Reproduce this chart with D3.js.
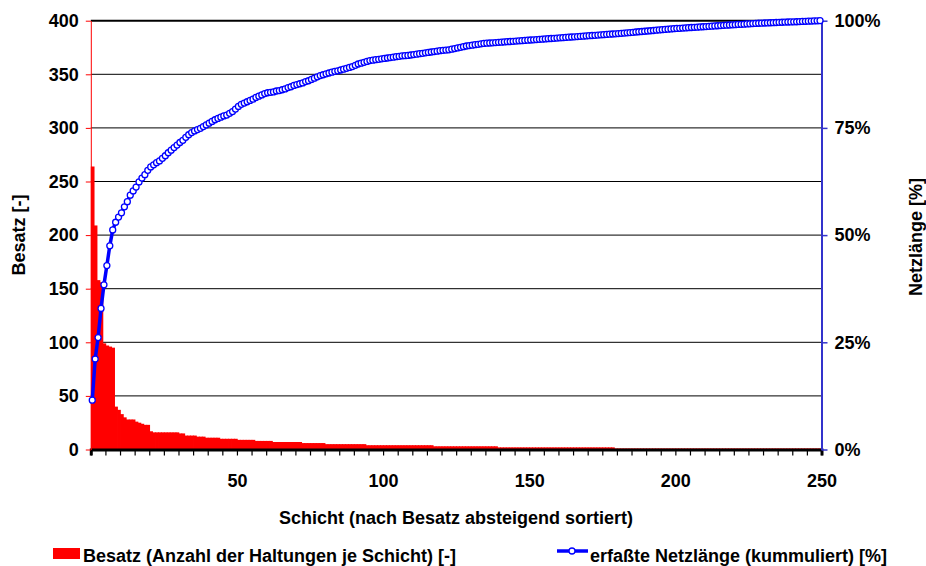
<!DOCTYPE html>
<html><head><meta charset="utf-8">
<script src="https://cdn.jsdelivr.net/npm/d3@7"></script>
<style>
body{margin:0;background:#fff}
text{font-family:"Liberation Sans",Arial,sans-serif;font-weight:bold;fill:#000}
</style>
</head><body>
<svg id="c" width="926" height="566"></svg>
<script>
// Besatz (Anzahl der Haltungen je Schicht) per Schicht 1..250
const besatz = [
 264,209,158,156,99,97,96,95,40,37,
 33,30,28,28,28,26,25,24,23,23,
 17,16,16,16,16,16,16,16,16,16,
 15,15,13,13,13,13,12,12,12,11,
 11,11,11,11,10,10,10,10,10,10,
 9,9,9,9,9,9,8,8,8,8,
 8,8,7,7,7,7,7,7,7,7,
 7,7,6,6,6,6,6,6,6,6,
 5,5,5,5,5,5,5,5,5,5,
 5,5,5,5,4,4,4,4,4,4,
 4,4,4,4,4,4,4,4,4,4,
 4,4,4,4,4,4,4,3,3,3,
 3,3,3,3,3,3,3,3,3,3,
 3,3,3,3,3,3,3,3,3,2,
 2,2,2,2,2,2,2,2,2,2,
 2,2,2,2,2,2,2,2,2,2,
 2,2,2,2,2,2,2,2,2,2,
 2,2,2,2,2,2,2,2,2,1,
 1,1,1,1,1,1,1,1,1,1,
 1,1,1,1,1,1,1,1,1,1,
 1,1,1,1,1,1,1,1,1,1,
 1,1,1,1,1,1,1,1,1,1,
 1,1,1,1,1,1,1,1,1,1,
 1,1,1,1,1,1,1,1,1,1,
 1,1,1,1,1,1,1,1,1,1
];
// erfaßte Netzlänge (kummuliert) [%]
const netzlaenge = [
 11.5,21.1,26.1,32.9,38.4,42.9,47.5,51.2,53.0,54.2,
 55.2,56.6,57.8,59.3,60.3,61.2,62.4,63.3,64.1,65.1,
 65.9,66.4,66.9,67.3,67.9,68.5,69.2,69.8,70.4,71.0,
 71.6,72.1,72.8,73.4,73.9,74.3,74.6,74.9,75.3,75.7,
 76.1,76.5,76.9,77.2,77.5,77.8,78.0,78.4,78.8,79.4,
 80.0,80.5,80.8,81.1,81.4,81.7,82.1,82.4,82.7,83.0,
 83.2,83.3,83.4,83.6,83.7,83.9,84.1,84.4,84.6,84.9,
 85.1,85.3,85.5,85.8,86.0,86.3,86.6,86.9,87.2,87.4,
 87.6,87.8,88.0,88.2,88.3,88.5,88.7,88.9,89.1,89.3,
 89.6,89.9,90.1,90.3,90.5,90.7,90.8,90.9,91.0,91.1,
 91.2,91.3,91.4,91.5,91.6,91.7,91.8,91.85,91.9,92.0,
 92.1,92.2,92.3,92.4,92.5,92.6,92.7,92.8,92.9,93.0,
 93.1,93.15,93.2,93.35,93.5,93.65,93.8,93.95,94.1,94.2,
 94.3,94.4,94.5,94.6,94.7,94.75,94.8,94.85,94.9,94.95,
 95.0,95.05,95.1,95.15,95.2,95.25,95.3,95.35,95.4,95.45,
 95.5,95.55,95.6,95.65,95.7,95.75,95.8,95.85,95.9,95.95,
 96.0,96.05,96.1,96.15,96.2,96.25,96.3,96.35,96.4,96.45,
 96.5,96.55,96.6,96.65,96.7,96.75,96.8,96.85,96.9,96.95,
 97.0,97.06,97.12,97.18,97.24,97.3,97.36,97.42,97.48,97.54,
 97.6,97.66,97.72,97.78,97.84,97.9,97.96,98.02,98.08,98.14,
 98.19,98.23,98.28,98.32,98.37,98.41,98.46,98.5,98.55,98.59,
 98.64,98.68,98.73,98.77,98.82,98.86,98.91,98.95,99.0,99.04,
 99.08,99.12,99.16,99.2,99.24,99.28,99.32,99.36,99.4,99.43,
 99.46,99.49,99.52,99.55,99.58,99.61,99.64,99.67,99.7,99.72,
 99.74,99.76,99.79,99.82,99.85,99.88,99.91,99.94,99.97,100
];
const categories = d3.range(1, besatz.length + 1);
const xTickLabels = [50, 100, 150, 200, 250];
const yLeftTicks = [0, 50, 100, 150, 200, 250, 300, 350, 400];
const yRightTicks = [0, 25, 50, 75, 100];
const seriesNames = ["Besatz (Anzahl der Haltungen je Schicht) [-]", "erfaßte Netzlänge (kummuliert) [%]"];
const xTitle = "Schicht (nach Besatz absteigend sortiert)";
const yLeftTitle = "Besatz [-]";
const yRightTitle = "Netzlänge [%]";

const L = 90.8, R = 821.5, T = 20.7, B = 449.5;
const FS = 18;
const svg = d3.select("#c");

const x = d3.scaleBand().domain(categories).range([L, R]).padding(0);
const xb = d3.scaleLinear().domain([0, categories.length]).range([L, R]);
const yL = d3.scaleLinear().domain([0, 400]).range([B, T]);
const yR = d3.scaleLinear().domain([0, 100]).range([B, T]);

// gridlines
svg.append("g").selectAll("line").data(yLeftTicks.filter(d => d > 0 && d < 400)).join("line")
  .attr("x1", L).attr("x2", R).attr("y1", d => yL(d)).attr("y2", d => yL(d))
  .attr("stroke", "#000").attr("stroke-width", 1);
svg.append("line").attr("x1", L).attr("x2", R).attr("y1", yL(400)).attr("y2", yL(400))
  .attr("stroke", "#000").attr("stroke-width", 2);

// bars
svg.append("g").selectAll("rect").data(besatz).join("rect")
  .attr("x", (d, i) => x(categories[i]))
  .attr("width", x.bandwidth() + 0.8)
  .attr("y", d => yL(d))
  .attr("height", d => B - yL(d))
  .attr("fill", "#ff0000");

// bottom axis
const gx = svg.append("g").attr("transform", `translate(0,${B})`)
  .call(d3.axisBottom(xb).tickValues(d3.range(0, categories.length + 1, 5))
    .tickSize(6).tickPadding(19)
    .tickFormat(d => xTickLabels.includes(d) ? d : ""));
gx.select(".domain").attr("stroke", "#000").attr("stroke-width", 3);
gx.selectAll(".tick line").attr("stroke", "#000").attr("stroke-width", 1.2);
gx.selectAll("text").style("font-size", FS + "px").attr("fill", "#000");

// left axis
const gl = svg.append("g").attr("transform", `translate(${L},0)`)
  .call(d3.axisLeft(yL).tickValues(yLeftTicks).tickSize(5).tickPadding(7).tickSizeOuter(0));
gl.select(".domain").attr("stroke", "#ff0000").attr("stroke-width", 1);
gl.selectAll(".tick line").attr("stroke", "#ff0000");
gl.selectAll("text").style("font-size", FS + "px").attr("fill", "#000");

// right axis
const gr = svg.append("g").attr("transform", `translate(${R},0)`)
  .call(d3.axisRight(yR).tickValues(yRightTicks).tickSize(6).tickPadding(7).tickSizeOuter(0)
    .tickFormat(d => d + "%"));
gr.select(".domain").attr("stroke", "#3333cc").attr("stroke-width", 2);
gr.selectAll(".tick line").attr("stroke", "#3333cc").attr("stroke-width", 1.5);
gr.selectAll("text").style("font-size", FS + "px").attr("fill", "#000");

// line
const cx = i => x(categories[i]) + x.bandwidth() / 2;
svg.append("path").datum(netzlaenge)
  .attr("d", d3.line().x((d, i) => cx(i)).y(d => yR(d)))
  .attr("fill", "none").attr("stroke", "#0000ff").attr("stroke-width", 3.5);
svg.append("g").selectAll("circle").data(netzlaenge).join("circle")
  .attr("cx", (d, i) => cx(i)).attr("cy", d => yR(d)).attr("r", 3)
  .attr("fill", "#fff").attr("stroke", "#0000ff").attr("stroke-width", 1.3);

// titles
svg.append("text").attr("x", 456).attr("y", 524).attr("text-anchor", "middle")
  .style("font-size", FS + "px").text(xTitle);
svg.append("text").attr("transform", "translate(25,235) rotate(-90)").attr("text-anchor", "middle")
  .style("font-size", FS + "px").text(yLeftTitle);
svg.append("text").attr("transform", "translate(922,237) rotate(-90)").attr("text-anchor", "middle")
  .style("font-size", FS + "px").text(yRightTitle);

// legend
const lg = svg.append("g");
lg.append("rect").attr("x", 53).attr("y", 548).attr("width", 27).attr("height", 11).attr("fill", "#ff0000");
lg.append("text").attr("x", 83).attr("y", 562).style("font-size", FS + "px").text(seriesNames[0]);
lg.append("line").attr("x1", 557).attr("x2", 588).attr("y1", 551).attr("y2", 551)
  .attr("stroke", "#0000ff").attr("stroke-width", 3.5);
lg.append("circle").attr("cx", 572).attr("cy", 551).attr("r", 3)
  .attr("fill", "#fff").attr("stroke", "#0000ff").attr("stroke-width", 1.3);
lg.append("text").attr("x", 590).attr("y", 562).style("font-size", FS + "px").text(seriesNames[1]);
</script>
</body></html>
